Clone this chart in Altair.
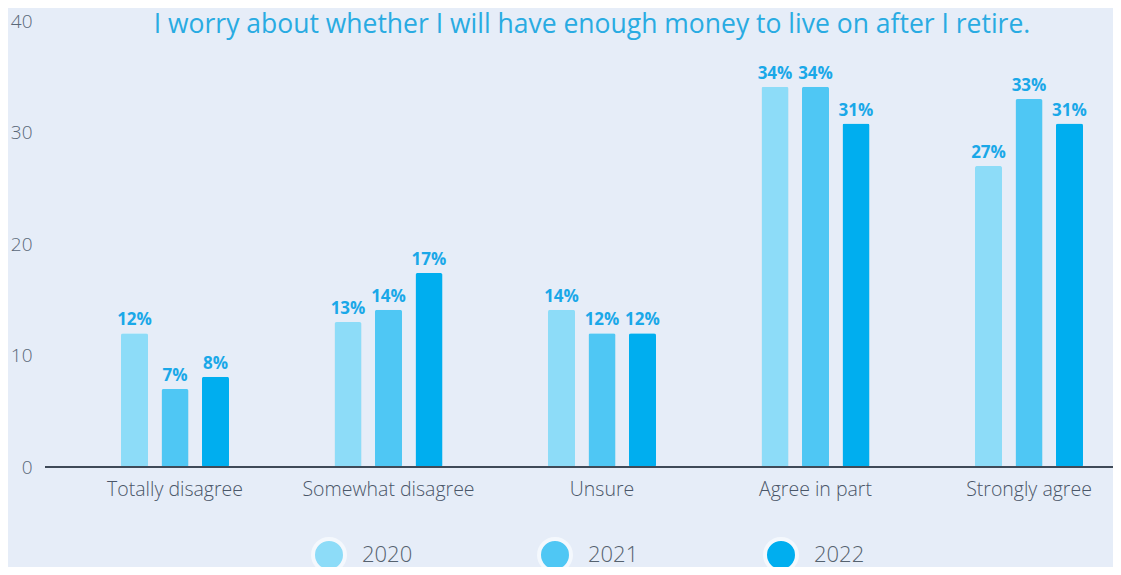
import altair as alt
import pandas as pd

categories = ["Totally disagree", "Somewhat disagree", "Unsure", "Agree in part", "Strongly agree"]
years = ["2020", "2021", "2022"]
values_2020 = [12.0, 13.0, 14.1, 34.1, 27.0]
values_2021 = [7.0, 14.1, 12.0, 34.1, 33.0]
values_2022 = [8.1, 17.4, 12.0, 30.8, 30.8]
colors = ["#8ddcf8", "#4fc7f4", "#00aeef"]
title_text = "I worry about whether I will have enough money to live on after I retire."

rows = []
for yr, vals in zip(years, [values_2020, values_2021, values_2022]):
    for c, v in zip(categories, vals):
        rows.append({"category": c, "year": yr, "value": v})
df = pd.DataFrame(rows)

FONT = "Open Sans"
W, H = 1068, 446

x_enc = alt.X(
    "category:N", sort=categories,
    scale=alt.Scale(range=[23.25, 1090.75], paddingInner=0, paddingOuter=0),
    axis=alt.Axis(title=None, domain=False, ticks=False, labelFont=FONT, labelFontSize=19.5,
                  labelFontWeight=300, labelColor="#4a5668", labelPadding=13, labelAngle=0),
)
xoff_enc = alt.XOffset("year:N", sort=years,
                       scale=alt.Scale(range=[52.75, 160.75], paddingInner=0.333, paddingOuter=0))
y_enc = alt.Y(
    "value:Q", scale=alt.Scale(domain=[0, 40], nice=False),
    axis=alt.Axis(title=None, domain=False, ticks=False, grid=False, values=[0, 10, 20, 30, 40],
                  labelFont=FONT, labelFontSize=19, labelFontWeight=300, labelColor="#5a6878",
                  labelPadding=13),
)

base = alt.Chart(df).encode(x=x_enc, xOffset=xoff_enc, y=y_enc)

shadow = base.mark_bar(color="#8c9db8", opacity=0.28, xOffset=3, yOffset=1, cornerRadius=2)
glow = base.mark_bar(color="#ffffff", opacity=0.7, yOffset=-2, cornerRadius=2)
bars = base.mark_bar(cornerRadius=2).encode(
    color=alt.Color(
        "year:N", sort=years, scale=alt.Scale(domain=years, range=colors),
        legend=alt.Legend(
            orient="none", direction="horizontal", legendX=266, legendY=516, title=None,
            symbolType="circle", symbolSize=1024, symbolStrokeColor="#f4f8fd", symbolStrokeWidth=4,
            symbolOpacity=1, labelFont=FONT, labelFontSize=22, labelFontWeight=300,
            labelColor="#55626f", labelOffset=15, columnPadding=118, padding=0,
        ),
    )
)
labels = base.mark_text(
    font=FONT, fontSize=17, fontWeight="bold", color="#1aa8e8", baseline="alphabetic", dy=-8
).transform_calculate(lbl="format(datum.value, '.0f') + '%'").encode(text="lbl:N")

baseline = alt.Chart(alt.Data(values=[{"v": 0}])).mark_rule(color="#3f4a58", strokeWidth=1.8).encode(
    x=alt.value(0), x2=alt.value(W), y=alt.Y("v:Q")
)

chart = alt.layer(shadow, glow, bars, labels, baseline).properties(
    width=W, height=H,
    background="#e6edf8",
    padding={"left": 37, "top": 13, "right": 0, "bottom": 100},
    autosize=alt.AutoSizeParams(type="none"),
    title=alt.TitleParams(title_text, font=FONT, fontSize=26.5, fontWeight="normal", color="#29abe2",
                          anchor="middle", baseline="alphabetic", offset=0, dx=13, dy=47),
).configure_view(stroke=None)

chart.save("out.html", embed_options={"renderer": "svg", "actions": False})
